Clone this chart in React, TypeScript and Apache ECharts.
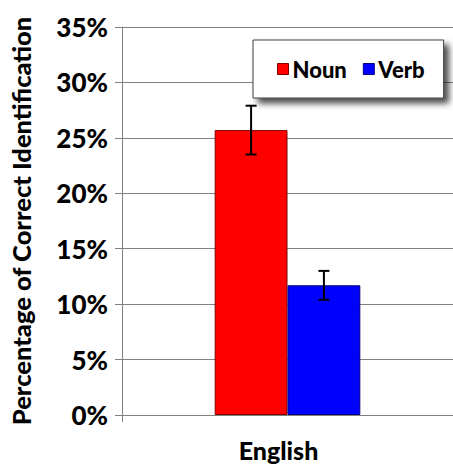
import React, { useEffect, useRef } from "react";
import * as echarts from "echarts";

const categories = ["English"];
const nounValues = [25.7];
const nounErrors = [2.2];
const verbValues = [11.7];
const verbErrors = [1.3];
const yTicks = { min: 0, max: 35, interval: 5 };

const FONT = "Lato";
const W = 900;

function errorSeries(name: string, values: number[], errors: number[], side: number) {
  const data = values.map((v, i) => [i, v, v - errors[i], v + errors[i]]);
  return {
    type: "custom",
    name: name + "-err",
    data,
    z: 10,
    silent: true,
    encode: { x: 0, y: [1, 2, 3] },
    renderItem: (params: any, api: any) => {
      const idx = api.value(0);
      const lo = api.coord([idx, api.value(2)]);
      const hi = api.coord([idx, api.value(3)]);
      const band = api.size([1, 0])[0];
      const x = lo[0] + side * band * 0.11;
      const cap = 5.5;
      const style = { stroke: "#000", lineWidth: 2 };
      return {
        type: "group",
        children: [
          { type: "line", shape: { x1: x, y1: lo[1], x2: x, y2: hi[1] }, style },
          { type: "line", shape: { x1: x - cap, y1: lo[1], x2: x + cap, y2: lo[1] }, style },
          { type: "line", shape: { x1: x - cap, y1: hi[1], x2: x + cap, y2: hi[1] }, style },
        ],
      };
    },
  };
}

export default function App() {
  const ref = useRef<HTMLDivElement>(null);
  useEffect(() => {
    if (!ref.current) return;
    const chart = echarts.init(ref.current, null, { renderer: "svg" });
    chart.setOption({
      animation: false,
      backgroundColor: "#fff",
      textStyle: { fontFamily: FONT },
      grid: { left: 117, right: 0, top: 27, bottom: 51, containLabel: false },
      legend: {
        data: [
          { name: "Noun", itemStyle: { color: "#ff0000", borderColor: "#800000", borderWidth: 1 } },
          { name: "Verb", itemStyle: { color: "#0000ff", borderColor: "#000080", borderWidth: 1 } },
        ],
        left: 253,
        top: 40,
        itemWidth: 11,
        itemHeight: 11,
        itemGap: 16,
        icon: "rect",
        padding: [18, 19, 18, 24],
        backgroundColor: "#fff",
        borderColor: "#404040",
        borderWidth: 1,
        shadowColor: "rgba(0,0,0,0.7)",
        shadowBlur: 6,
        shadowOffsetX: 5,
        shadowOffsetY: 5,
        textStyle: { fontFamily: FONT, fontWeight: W, fontSize: 22, color: "#000", padding: [0, 0, 0, -1] },
      },
      xAxis: {
        type: "category",
        data: categories,
        axisLine: { lineStyle: { color: "#808080", width: 1 } },
        axisTick: { show: true, length: 7, lineStyle: { color: "#808080" } },
        axisLabel: { fontFamily: FONT, fontWeight: W, fontSize: 25, color: "#000", margin: 22, padding: [0, 18, 0, 0] },
      },
      yAxis: {
        type: "value",
        min: yTicks.min,
        max: yTicks.max,
        interval: yTicks.interval,
        name: "Percentage of Correct Identification",
        nameLocation: "middle",
        nameGap: 88,
        nameTextStyle: { fontFamily: FONT, fontWeight: W, fontSize: 25.5, color: "#000" },
        axisLine: { show: true, lineStyle: { color: "#808080", width: 1 } },
        axisTick: { show: true, length: 7, lineStyle: { color: "#808080" } },
        axisLabel: { formatter: "{value}%", fontFamily: FONT, fontWeight: W, fontSize: 26, color: "#000", margin: 14 },
        splitLine: { show: true, lineStyle: { color: "#808080", width: 1 } },
      },
      series: [
        {
          type: "bar",
          name: "Noun",
          data: nounValues,
          barGap: "0%",
          barCategoryGap: "56%",
          itemStyle: { color: "#ff0000", borderColor: "#800000", borderWidth: 1 },
        },
        {
          type: "bar",
          name: "Verb",
          data: verbValues,
          barGap: "0%",
          barCategoryGap: "56%",
          itemStyle: { color: "#0000ff", borderColor: "#000080", borderWidth: 1 },
        },
        errorSeries("Noun", nounValues, nounErrors, -1),
        errorSeries("Verb", verbValues, verbErrors, 1),
      ],
    });
    return () => chart.dispose();
  }, []);
  return <div ref={ref} style={{ width: 453, height: 466, position: "absolute", left: 0, top: 0 }} />;
}
